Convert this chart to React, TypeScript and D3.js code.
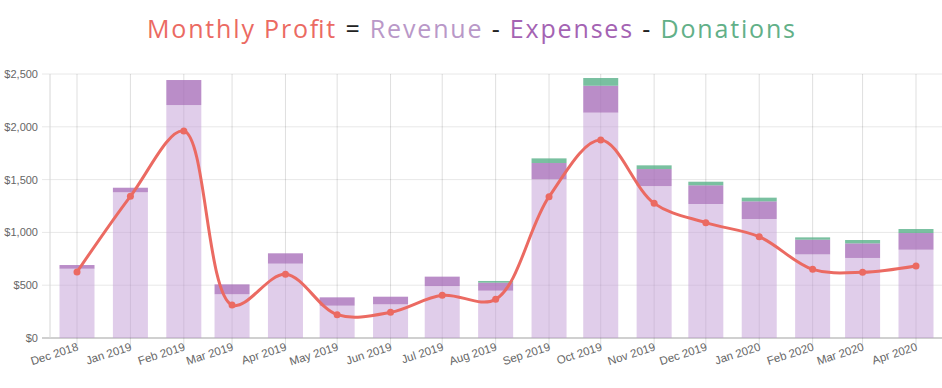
import { useEffect, useRef } from 'react'
import * as d3 from 'd3'

const months = [
  'Dec 2018', 'Jan 2019', 'Feb 2019', 'Mar 2019', 'Apr 2019', 'May 2019', 'Jun 2019', 'Jul 2019', 'Aug 2019',
  'Sep 2019', 'Oct 2019', 'Nov 2019', 'Dec 2019', 'Jan 2020', 'Feb 2020', 'Mar 2020', 'Apr 2020',
]
const revenue = [656, 1380, 2206, 414, 704, 306, 319, 492, 448, 1503, 2134, 1439, 1269, 1127, 792, 758, 836]
const expenses = [35, 43, 237, 94, 98, 79, 72, 89, 76, 154, 255, 161, 177, 167, 139, 138, 158]
const donations = [0, 0, 0, 0, 0, 0, 0, 0, 16, 44, 73, 35, 34, 35, 22, 32, 38]
const profit = [625, 1342, 1960, 312, 603, 221, 243, 404, 366, 1338, 1875, 1275, 1092, 959, 650, 622, 682]
const yTicks = [0, 500, 1000, 1500, 2000, 2500]

const W = 942
const H = 388

export default function App() {
  const svgRef = useRef<SVGSVGElement>(null)

  useEffect(() => {
    if (!svgRef.current) return
    const svg = d3.select(svgRef.current)
    svg.selectAll('*').remove()

    const parse = d3.timeParse('%b %Y')
    const dates = months.map(m => parse(m) as Date)

    const left = 50
    const right = W
    const top = 74
    const bottom = 338

    const x = d3.scaleTime()
      .domain([dates[0], dates[dates.length - 1]])
      .range([77, 916])
    const y = d3.scaleLinear().domain([0, 2500]).range([bottom, top])
    const barW = 35

    // title, stretched to the reference width
    const title = svg.append('text')
      .attr('x', W / 2).attr('y', 38).attr('text-anchor', 'middle')
      .attr('textLength', 648).attr('lengthAdjust', 'spacing')
      .style('font-family', '"Open Sans", sans-serif').style('font-size', '25px')
    const parts: [string, string][] = [
      ['Monthly Profit', '#eb6a62'], [' = ', '#222'], ['Revenue', '#b998c8'], [' - ', '#222'],
      ['Expenses', '#a463b3'], [' - ', '#222'], ['Donations', '#62b088'],
    ]
    parts.forEach(([t, c]) => title.append('tspan').attr('fill', c).text(t))

    // horizontal grid + y labels
    yTicks.forEach(t => {
      svg.append('line').attr('x1', 42).attr('x2', right).attr('y1', y(t)).attr('y2', y(t))
        .attr('stroke', t === 0 ? '#d0d0d0' : '#e8e8e8').attr('stroke-width', t === 0 ? 2 : 1)
      svg.append('text').attr('x', 38).attr('y', y(t) + 4).attr('text-anchor', 'end')
        .style('font-family', '"Liberation Sans", Arial, sans-serif').style('font-size', '11px')
        .attr('fill', '#666').text(d3.format('$,')(t))
    })
    svg.append('line').attr('x1', left).attr('x2', left).attr('y1', top).attr('y2', bottom)
      .attr('stroke', '#d6d6d6')

    // vertical grid + x labels
    dates.forEach((d, i) => {
      svg.append('line').attr('x1', x(d)).attr('x2', x(d)).attr('y1', top).attr('y2', bottom + 9)
        .attr('stroke', 'rgba(0,0,0,0.13)')
      svg.append('text')
        .attr('transform', `translate(${x(d) + 2},${bottom + 12}) rotate(-18)`)
        .attr('text-anchor', 'end')
        .style('font-family', '"Liberation Sans", Arial, sans-serif').style('font-size', '11.5px')
        .attr('fill', '#666').text(months[i])
    })

    // stacked bars
    const bars = svg.append('g')
    dates.forEach((d, i) => {
      const cx = x(d)
      const r = revenue[i]
      const e = expenses[i]
      const dn = donations[i]
      bars.append('rect').attr('x', cx - barW / 2).attr('width', barW)
        .attr('y', y(r)).attr('height', y(0) - y(r)).attr('fill', 'rgba(193,155,214,0.5)')
      bars.append('rect').attr('x', cx - barW / 2).attr('width', barW)
        .attr('y', y(r + e)).attr('height', y(r) - y(r + e)).attr('fill', 'rgba(166,109,184,0.78)')
      if (dn > 0) {
        bars.append('rect').attr('x', cx - barW / 2).attr('width', barW)
          .attr('y', y(r + e + dn)).attr('height', y(r + e) - y(r + e + dn)).attr('fill', 'rgba(88,176,136,0.8)')
      }
    })

    // profit line
    const pts: [number, number][] = dates.map((d, i) => [x(d), y(profit[i])])
    const line = d3.line().curve(d3.curveCatmullRom.alpha(0.5))
    svg.append('path').attr('d', line(pts)).attr('fill', 'none')
      .attr('stroke', '#eb6a62').attr('stroke-width', 3)
    svg.selectAll('.dot').data(pts).enter().append('circle')
      .attr('cx', p => p[0]).attr('cy', p => p[1]).attr('r', 3.5).attr('fill', '#eb6a62')
  }, [])

  return (
    <svg ref={svgRef} width={W} height={H} style={{ position: 'absolute', left: 0, top: 0, background: '#fff' }} />
  )
}
